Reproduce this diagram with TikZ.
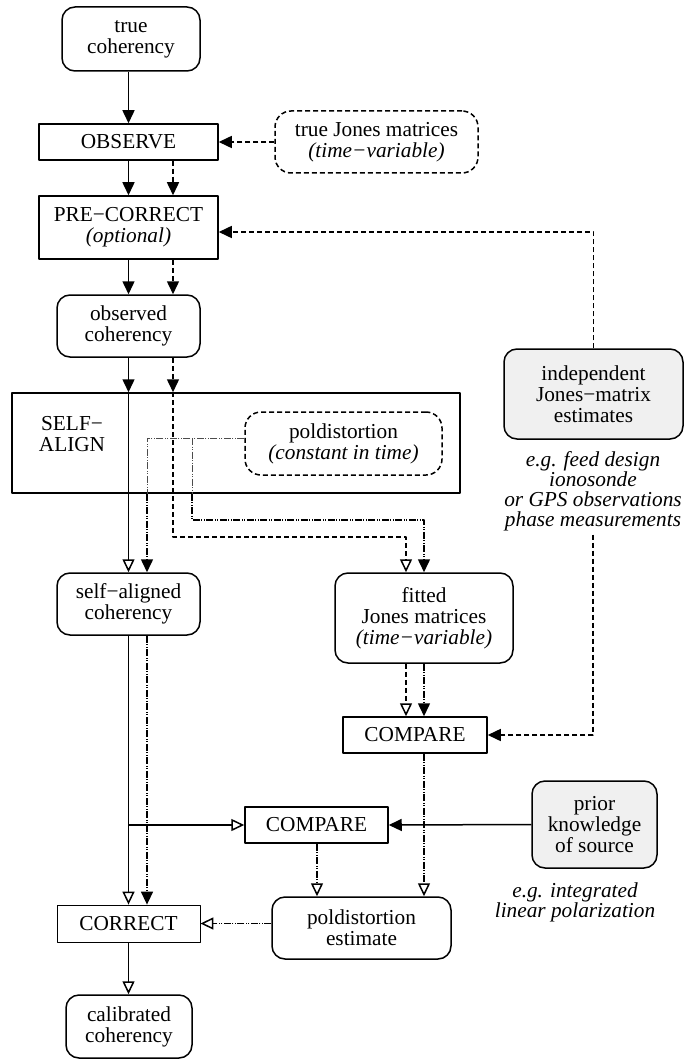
\documentclass[tikz,border=0pt]{standalone}
\usepackage{fontspec}
\setmainfont{Liberation Serif}
\usetikzlibrary{arrows.meta}
\tikzset{
 box/.style={draw,align=center,inner sep=0pt},
 rbox/.style={box,rounded corners=13pt},
 dbox/.style={box,dsh,rounded corners=16pt},
 gbox/.style={rbox,fill=black!6},
 note/.style={align=center,font=\fontsize{21.3}{20}\selectfont\itshape},
 fa/.style={-{Triangle[length=13pt,width=12pt]}},
 oa/.style={-{Triangle[open,length=13pt,width=12pt]}},
 dsh/.style={dash pattern=on 5pt off 3pt},
 ddot/.style={dash pattern=on 7pt off 1.5pt on 1pt off 1.5pt on 1pt off 1.5pt},
 thinline/.style={line width=0.7pt,draw=black!70},
}
\begin{document}
\begin{tikzpicture}[x=1pt,y=-1pt,line width=1.5pt,line join=round,font=\fontsize{21.3}{21}\selectfont]
\useasboundingbox (0,0) rectangle (687,1059);
\path
(128.5,0) coordinate (s)
(173,0) coordinate (d)
(147,0) coordinate (p)
(192,0) coordinate (q)
(406,0) coordinate (e)
(424,0) coordinate (f)
(317,0) coordinate (g)
(0,537) coordinate (bend1)
(0,520) coordinate (bend2)
;
% boxes
\node[rbox,minimum width=138pt,minimum height=64pt] (truecoh) at (131,39) {true\\coherency};
\node[box,minimum width=179pt,minimum height=36pt] (observe) at (128.5,142) {OBSERVE};
\node[dbox,minimum width=203pt,minimum height=62pt] (truejones) at (376.5,142) {true Jones matrices\\\textit{(time−variable)}};
\node[box,minimum width=179pt,minimum height=63pt] (precorrect) at (128.5,227.5) {PRE−CORRECT\\\textit{(optional)}};
\node[rbox,minimum width=143pt,minimum height=62pt] (obscoh) at (128.5,326) {observed\\coherency};
\node[box,minimum width=448pt,minimum height=100pt] (selfalign) at (236,443) {};
\node[align=center] (salabel) at (72,434) {SELF−\\ALIGN};
\node[dbox,minimum width=197pt,minimum height=63pt] (poldist) at (343.5,443.5) {poldistortion\\\textit{(constant in time)}};
\node[rbox,minimum width=143pt,minimum height=62pt] (selfcoh) at (128.5,604) {self−aligned\\coherency};
\node[rbox,minimum width=178pt,minimum height=90pt] (fitted) at (424,618) {fitted\\Jones matrices\\\textit{(time−variable)}};
\node[gbox,minimum width=179pt,minimum height=90pt] (indep) at (593.5,394) {independent\\Jones−matrix\\estimates};
\node[note,anchor=north] (indepnote) at (593,447) {e.g. feed design\\ionosonde\\or GPS observations\\phase measurements};
\node[box,minimum width=144pt,minimum height=36pt] (compare1) at (415,735) {COMPARE};
\node[box,minimum width=143pt,minimum height=36pt] (compare2) at (316.5,825) {COMPARE};
\node[gbox,minimum width=125pt,minimum height=87pt] (prior) at (594.5,824.5) {prior\\knowledge\\of source};
\node[note] (priornote) at (575,902) {e.g. integrated\\linear polarization};
\node[rbox,minimum width=179pt,minimum height=62pt] (poldest) at (361.5,928) {poldistortion\\estimate};
\node[box,line width=0.8pt,minimum width=143pt,minimum height=37pt] (correct) at (128.5,923.5) {CORRECT};
\node[rbox,minimum width=126pt,minimum height=63pt] (calcoh) at (129,1026.5) {calibrated\\coherency};
\path ([yshift=5.5pt]poldist.west) coordinate (pw);
% observing chain
\draw[fa] (truecoh.south -| s) -- (observe.north -| s);
\draw[fa,dsh] (truejones.west) -- (observe.east);
\draw[fa] (observe.south -| s) -- (precorrect.north -| s);
\draw[fa,dsh] (observe.south -| d) -- (precorrect.north -| d);
\draw[fa,dsh] (indep.north) |- ([yshift=-4.5pt]precorrect.east);
\draw[fa] (precorrect.south -| s) -- (obscoh.north -| s);
\draw[fa,dsh] (precorrect.south -| d) -- (obscoh.north -| d);
\draw[fa] (obscoh.south -| s) -- (selfalign.north -| s);
\draw[fa,dsh] (obscoh.south -| d) -- (selfalign.north -| d);
% self-align
\draw[oa] (selfalign.north -| s) -- (selfcoh.north -| s);
\draw[oa,dsh] (selfalign.north -| d) -- (d |- bend1) -| (fitted.north -| e);
\draw[thinline,ddot] (pw) -| (selfalign.south -| p) (pw -| q) -- (selfalign.south -| q);
\draw[fa,ddot] (selfalign.south -| p) -- (selfcoh.north -| p);
\draw[fa,ddot] (selfalign.south -| q) -- (q |- bend2) -| (fitted.north -| f);
% comparisons
\draw[oa] (selfcoh.south -| s) -- (correct.north -| s);
\draw[fa,ddot] (selfcoh.south -| p) -- (correct.north -| p);
\draw[oa] (compare2.west -| s) -- (compare2.west);
\draw[oa,dsh] (fitted.south -| e) -- (compare1.north -| e);
\draw[fa,ddot] (fitted.south -| f) -- (compare1.north -| f);
\draw[fa,dsh] (indepnote.south) |- (compare1.east);
\draw[oa,ddot] (compare1.south -| f) -- (poldest.north -| f);
\draw[fa] (prior.west) -- (compare2.east);
\draw[oa,ddot] (compare2.south -| g) -- (poldest.north -| g);
\draw[oa,ddot] (poldest.west |- correct.east) -- (correct.east);
\draw[oa] (correct.south) -- (correct.south |- calcoh.north);
\end{tikzpicture}
\end{document}
